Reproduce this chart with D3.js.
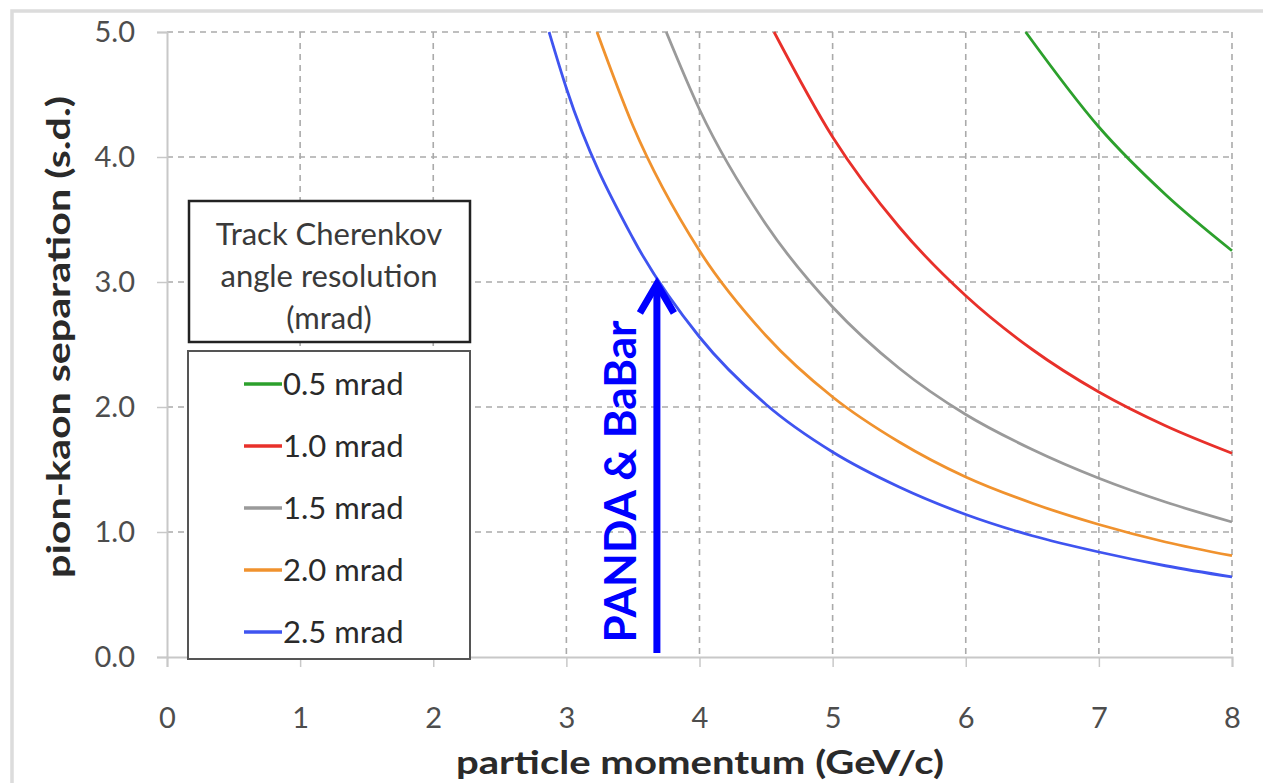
<!DOCTYPE html>
<html lang="en">
<head>
    <meta charset="UTF-8">
    <title>Pion-kaon separation</title>
    <script src="https://d3js.org/d3.v7.min.js"></script>
    <style>
        body { margin: 0; background: #fff; }
        svg { font-family: Lato, "Open Sans", sans-serif; }
    </style>
</head>
<body>
    <script>
        // values (momentum in GeV/c, separation in s.d.)
        const seriesNames = ['0.5 mrad', '1.0 mrad', '1.5 mrad', '2.0 mrad', '2.5 mrad'];
        const seriesColors = ['#2ca02c', '#e8302a', '#9a9a9a', '#f0922e', '#3f54f0'];

        const p05 = [6.45, 7.0, 7.5, 8.0];
        const s05 = [5.0, 4.24, 3.70, 3.25];
        const p10 = [4.56, 5.0, 5.5, 6.0, 6.5, 7.0, 7.5, 8.0];
        const s10 = [5.0, 4.16, 3.44, 2.89, 2.46, 2.12, 1.85, 1.63];
        const p15 = [3.75, 4.0, 4.5, 5.0, 5.5, 6.0, 6.5, 7.0, 7.5, 8.0];
        const s15 = [5.0, 4.38, 3.46, 2.80, 2.31, 1.94, 1.66, 1.43, 1.24, 1.08];
        const p20 = [3.23, 3.5, 4.0, 4.5, 5.0, 5.5, 6.0, 6.5, 7.0, 7.5, 8.0];
        const s20 = [5.0, 4.25, 3.25, 2.57, 2.08, 1.72, 1.44, 1.23, 1.06, 0.92, 0.81];
        const p25 = [2.87, 3.0, 3.5, 4.0, 4.5, 5.0, 5.5, 6.0, 6.5, 7.0, 7.5, 8.0];
        const s25 = [5.0, 4.55, 3.35, 2.56, 2.02, 1.64, 1.36, 1.14, 0.97, 0.84, 0.73, 0.64];

        const xTicks = [0, 1, 2, 3, 4, 5, 6, 7, 8];
        const yTicks = [0, 1, 2, 3, 4, 5];

        const arrowP = 3.68, arrowTop = 3.0;

        const series = [[p05, s05], [p10, s10], [p15, s15], [p20, s20], [p25, s25]].map(([ps, ss], i) => ({
            name: seriesNames[i],
            color: seriesColors[i],
            values: ps.map((p, j) => ({ p: p, s: ss[j] }))
        }));

        const W = 1263, H = 783;
        const margin = { top: 32, right: 31, bottom: 126, left: 167 };
        const width = W - margin.left - margin.right;
        const height = H - margin.top - margin.bottom;

        const root = d3.select('body').append('svg')
            .attr('width', W)
            .attr('height', H);

        // light frame of the screenshot
        root.append('path')
            .attr('d', `M12,${H} V11 H${W}`)
            .attr('fill', 'none')
            .attr('stroke', '#dcdcdc')
            .attr('stroke-width', 3.5);

        const svg = root.append('g')
            .attr('transform', `translate(${margin.left},${margin.top})`);

        const x = d3.scaleLinear().domain([0, 8]).range([0, width]);
        const y = d3.scaleLinear().domain([0, 5]).range([height, 0]);

        // grid
        svg.append('g')
            .selectAll('line')
            .data(xTicks.slice(1))
            .join('line')
            .attr('x1', d => x(d)).attr('x2', d => x(d))
            .attr('y1', 0).attr('y2', height)
            .attr('stroke', '#aaa')
            .attr('stroke-width', 1.6)
            .attr('stroke-dasharray', '6,5');
        svg.append('g')
            .selectAll('line')
            .data(yTicks.slice(1))
            .join('line')
            .attr('x1', 0).attr('x2', width)
            .attr('y1', d => y(d)).attr('y2', d => y(d))
            .attr('stroke', '#aaa')
            .attr('stroke-width', 1.6)
            .attr('stroke-dasharray', '6,5');

        // axes
        const xAxis = svg.append('g')
            .attr('transform', `translate(0,${height})`)
            .call(d3.axisBottom(x).tickValues(xTicks).tickSize(10).tickPadding(40).tickFormat(d3.format('d')));
        const yAxis = svg.append('g')
            .call(d3.axisLeft(y).tickValues(yTicks).tickSize(10).tickPadding(22).tickFormat(d3.format('.1f')));
        [xAxis, yAxis].forEach(a => {
            a.select('.domain').attr('stroke', '#c8c8c8').attr('stroke-width', 2);
            a.selectAll('.tick line').attr('stroke', '#c8c8c8').attr('stroke-width', 1.5);
            a.selectAll('.tick text')
                .attr('fill', '#4d4d4d')
                .style('font-size', '29px')
                .style('font-family', 'Lato, sans-serif');
        });

        // curves
        const line = d3.line()
            .x(d => x(d.p))
            .y(d => y(d.s))
            .curve(d3.curveMonotoneX);

        svg.append('g')
            .selectAll('path')
            .data(series)
            .join('path')
            .attr('fill', 'none')
            .attr('stroke', d => d.color)
            .attr('stroke-width', 2.8)
            .attr('d', d => line(d.values));

        // axis titles
        root.append('text')
            .attr('x', 700)
            .attr('y', 774)
            .attr('text-anchor', 'middle')
            .attr('fill', '#2a2a2a')
            .attr('textLength', 488)
            .attr('lengthAdjust', 'spacingAndGlyphs')
            .style('font-size', '32px')
            .style('font-weight', 'bold')
            .text('particle momentum (GeV/c)');
        root.append('text')
            .attr('transform', 'translate(70,337) rotate(-90)')
            .attr('text-anchor', 'middle')
            .attr('fill', '#2a2a2a')
            .attr('textLength', 482)
            .attr('lengthAdjust', 'spacingAndGlyphs')
            .style('font-size', '32px')
            .style('font-weight', 'bold')
            .text('pion-kaon separation (s.d.)');

        // legend title box
        const lt = root.append('g').attr('transform', 'translate(189,201)');
        lt.append('rect')
            .attr('width', 281).attr('height', 141)
            .attr('fill', '#fff')
            .attr('stroke', '#222')
            .attr('stroke-width', 2.5);
        ['Track Cherenkov', 'angle resolution', '(mrad)'].forEach((t, i) => {
            lt.append('text')
                .attr('x', 140).attr('y', 44 + i * 42)
                .attr('text-anchor', 'middle')
                .attr('fill', '#3a3a3a')
                .style('font-size', '31px')
                .text(t);
        });

        // legend entries
        const lg = root.append('g').attr('transform', 'translate(188,351)');
        lg.append('rect')
            .attr('width', 282).attr('height', 308)
            .attr('fill', '#fff')
            .attr('stroke', '#555')
            .attr('stroke-width', 2);
        const entry = lg.selectAll('g.entry')
            .data(series)
            .join('g')
            .attr('class', 'entry')
            .attr('transform', (d, i) => `translate(0,${33 + i * 62})`);
        entry.append('line')
            .attr('x1', 56).attr('x2', 94)
            .attr('stroke', d => d.color)
            .attr('stroke-width', 3.5);
        entry.append('text')
            .attr('x', 95).attr('y', 11)
            .attr('fill', '#2a2a2a')
            .style('font-size', '31px')
            .text(d => d.name);

        // PANDA & BaBar arrow
        const ax = x(arrowP);
        const tipY = y(arrowTop) - 2;
        const arrow = svg.append('g').attr('stroke', '#0000ff').attr('fill', 'none');
        arrow.append('line')
            .attr('x1', ax).attr('x2', ax)
            .attr('y1', y(0) - 4).attr('y2', tipY + 4)
            .attr('stroke-width', 7);
        arrow.append('path')
            .attr('d', `M${ax - 17},${tipY + 33} L${ax},${tipY + 4} L${ax + 17},${tipY + 33}`)
            .attr('stroke-width', 7)
            .attr('stroke-linejoin', 'miter');
        svg.append('text')
            .attr('transform', `translate(${ax - 21},${(y(0) + y(arrowTop)) / 2 + 12}) rotate(-90)`)
            .attr('text-anchor', 'middle')
            .attr('fill', '#0000ff')
            .style('font-size', '44px')
            .style('font-weight', 'bold')
            .text('PANDA & BaBar');
    </script>
</body>
</html>
